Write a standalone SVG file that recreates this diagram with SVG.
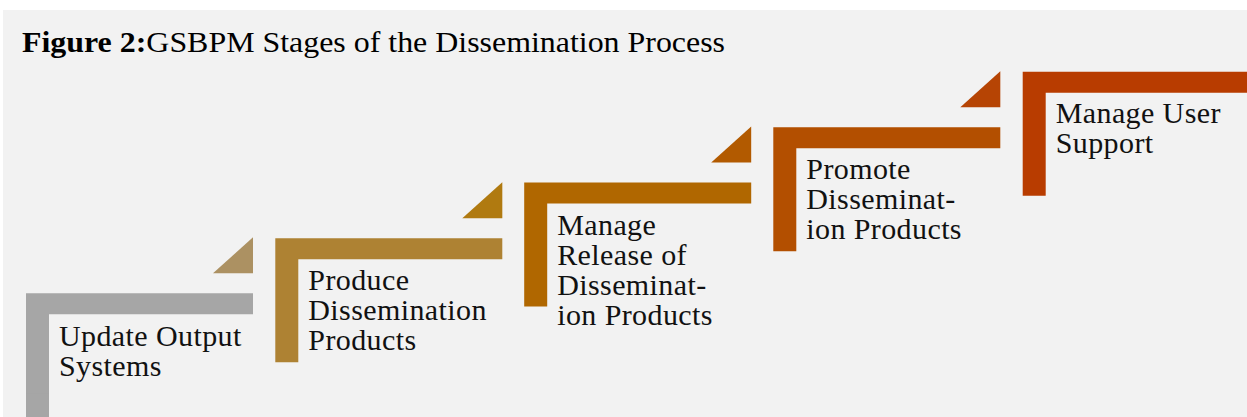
<svg xmlns="http://www.w3.org/2000/svg" width="1247" height="417" viewBox="0 0 1247 417">
<style>
.lbl{font-family:"Liberation Serif","Times New Roman",serif;font-size:30px;letter-spacing:0.4px;fill:#111}
.title{font-family:"Liberation Serif","Times New Roman",serif;font-size:30px;fill:#000}
</style>
<defs>
<path id="ell" d="M0,0 H227 V21 H23 V124 H0 Z"/>
<path id="tri" d="M227,-56 V-20 H187 Z"/>
</defs>
<rect x="0" y="0" width="1247" height="417" fill="#ffffff"/>
<rect x="3" y="10" width="1244" height="407" fill="#f2f2f2"/>
<text class="title" x="22" y="52" textLength="703" lengthAdjust="spacingAndGlyphs"><tspan font-weight="bold">Figure 2:</tspan>GSBPM Stages of the Dissemination Process</text>
<g id="connectors"></g>
<g id="n1" transform="translate(26,293.3)">
<use href="#ell" fill="#a6a6a6"/>
<rect x="0" y="100" width="23" height="40" fill="#a6a6a6"/>
<use href="#tri" fill="#ac9162"/>
<text class="lbl" x="33" y="53"><tspan x="33">Update Output</tspan><tspan x="33" dy="30">Systems</tspan></text>
</g>
<g id="n2" transform="translate(275.3,238.3)">
<use href="#ell" fill="#ae8233"/>
<use href="#tri" fill="#b07a10"/>
<text class="lbl" x="33" y="52"><tspan x="33">Produce</tspan><tspan x="33" dy="30">Dissemination</tspan><tspan x="33" dy="30">Products</tspan></text>
</g>
<g id="n3" transform="translate(524.2,182.5)">
<use href="#ell" fill="#b06700"/>
<use href="#tri" fill="#b25a00"/>
<text class="lbl" x="33" y="52.5"><tspan x="33">Manage</tspan><tspan x="33" dy="30">Release of</tspan><tspan x="33" dy="30">Disseminat-</tspan><tspan x="33" dy="30">ion Products</tspan></text>
</g>
<g id="n4" transform="translate(773.3,127.3)">
<use href="#ell" fill="#b34f00"/>
<use href="#tri" fill="#b64404"/>
<text class="lbl" x="33" y="52"><tspan x="33">Promote</tspan><tspan x="33" dy="30">Disseminat-</tspan><tspan x="33" dy="30">ion Products</tspan></text>
</g>
<g id="n5" transform="translate(1022.7,71.7)">
<use href="#ell" fill="#b83c00"/>
<text class="lbl" x="33" y="51.6"><tspan x="33">Manage User</tspan><tspan x="33" dy="30">Support</tspan></text>
</g>
</svg>
